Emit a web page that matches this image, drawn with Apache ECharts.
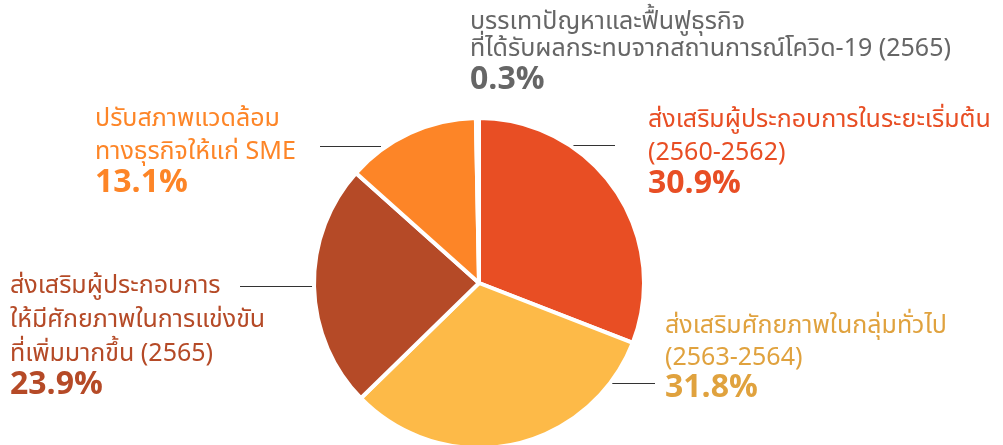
<!DOCTYPE html>
<html>
<head>
<meta charset="utf-8">
<script src="https://cdn.jsdelivr.net/npm/echarts@6/dist/echarts.min.js"></script>
<style>
html,body{margin:0;padding:0;background:#fff;}
#c{width:1003px;height:445px;}
</style>
</head>
<body>
<div id="c"></div>
<script>
// ---- data ----
const categories = [
  'ส่งเสริมผู้ประกอบการในระยะเริ่มต้น\n(2560-2562)',
  'ส่งเสริมศักยภาพในกลุ่มทั่วไป\n(2563-2564)',
  'ส่งเสริมผู้ประกอบการ\nให้มีศักยภาพในการแข่งขัน\nที่เพิ่มมากขึ้น (2565)',
  'ปรับสภาพแวดล้อม\nทางธุรกิจให้แก่ SME',
  'บรรเทาปัญหาและฟื้นฟูธุรกิจ\nที่ได้รับผลกระทบจากสถานการณ์โควิด-19 (2565)'
];
const values = [30.9, 31.8, 23.9, 13.1, 0.3];

// ---- styles / layout ----
const sliceColors = ['#E84E24', '#FDBA48', '#B54A27', '#FD8527', '#666666'];
const textColors  = ['#E84E24', '#E0A23E', '#B54A27', '#FD8527', '#666666'];
const labelBoxes = [
  {x: 648, y: 105.5, lh: 33, plh: 30, line: [[568, 145.5], [615, 145.5]]},
  {x: 665, y: 312,   lh: 32, plh: 30, line: [[610, 383.5], [655, 383.5]]},
  {x: 10,  y: 271,   lh: 34, plh: 30, line: [[315, 286.5], [240, 286.5]]},
  {x: 95,  y: 104.5, lh: 33, plh: 30, line: [[381, 146.5], [320, 146.5]]},
  {x: 470, y: 10.5,  lh: 27, plh: 36, line: null}
];

const FONT = '"Noto Sans Thai", "Noto Sans", "DejaVu Sans", sans-serif';

const data = categories.map((name, i) => {
  const rich = {};
  rich['n' + i] = {fontSize: 25, color: textColors[i], lineHeight: labelBoxes[i].lh, fontFamily: FONT};
  rich['p' + i] = {fontSize: 32, fontWeight: 'bold', color: textColors[i], lineHeight: labelBoxes[i].plh, fontFamily: FONT};
  return {
    name: name,
    value: values[i],
    itemStyle: {color: sliceColors[i]},
    label: {rich: rich},
    labelLine: {show: !!labelBoxes[i].line}
  };
});

const chart = echarts.init(document.getElementById('c'), null, {renderer: 'canvas'});
chart.setOption({
  animation: false,
  backgroundColor: '#ffffff',
  series: [{
    type: 'pie',
    center: [479, 283],
    radius: 165,
    startAngle: 90,
    clockwise: true,
    silent: true,
    avoidLabelOverlap: false,
    itemStyle: {borderColor: '#ffffff', borderWidth: 4},
    data: data,
    label: {
      show: true,
      position: 'outside',
      overflow: 'none',
      width: 600,
      formatter: function (p) {
        const i = p.dataIndex;
        const lines = p.name.split('\n').map(s => '{n' + i + '|' + s + '}');
        return lines.join('\n') + '\n{p' + i + '|' + values[i].toFixed(1) + '%}';
      }
    },
    labelLine: {show: true, lineStyle: {color: '#333', width: 1}},
    labelLayout: function (params) {
      const b = labelBoxes[params.dataIndex];
      const r = {x: b.x, y: b.y, align: 'left', verticalAlign: 'top', hideOverlap: false, moveOverlap: null};
      if (b.line) r.labelLinePoints = b.line;
      return r;
    }
  }]
});
</script>
</body>
</html>
